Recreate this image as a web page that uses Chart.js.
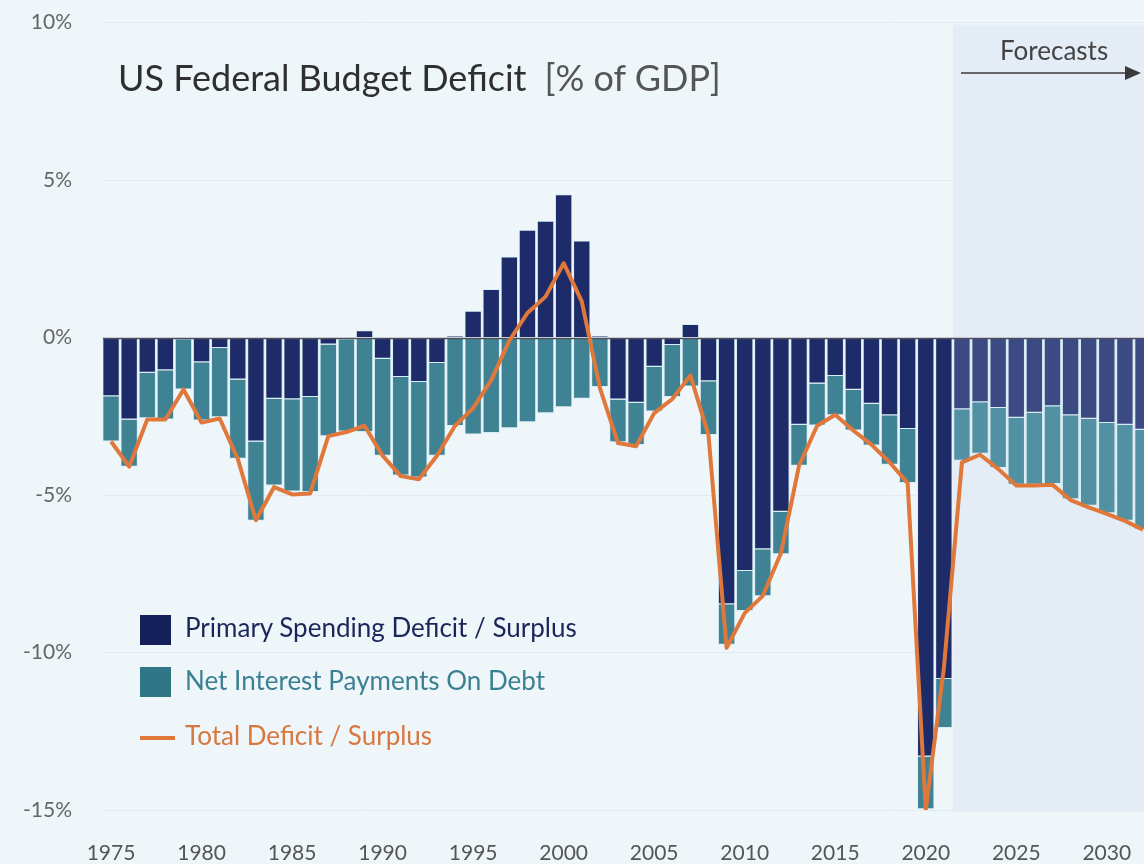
<!DOCTYPE html>
<html>
<head>
<meta charset="utf-8">
<title>US Federal Budget Deficit</title>
<script src="https://cdn.jsdelivr.net/npm/chart.js@4.4.0/dist/chart.umd.min.js"></script>
<style>
    html, body { margin: 0; padding: 0; background: #eef6fa; overflow: hidden; }
    body { width: 1144px; height: 864px; position: relative; font-family: Lato, "Open Sans", sans-serif; }
    #deficitChart { position: absolute; left: 0; top: -20px; }
    .title { position: absolute; left: 118px; top: 55px; font-size: 36px; color: #2f2f2f; white-space: nowrap; }
    .title span { color: #555; margin-left: 18px; }
    .forecast { position: absolute; left: 1000px; top: 34px; font-size: 26px; color: #444; }
    .arrow { position: absolute; left: 960px; top: 64px; }
    .legend { position: absolute; left: 140px; font-size: 26px; white-space: nowrap; }
    .legend i { position: absolute; left: 0; width: 31px; height: 30px; }
    .legend b { position: absolute; left: 0; width: 35px; height: 4px; }
    .legend span { position: absolute; left: 45px; }
</style>
</head>
<body>
<canvas id="deficitChart" width="1166" height="884"></canvas>

<div class="title">US Federal Budget Deficit<span>[% of GDP]</span></div>
<div class="forecast">Forecasts</div>
<svg class="arrow" width="184" height="18">
    <line x1="1" y1="9" x2="168" y2="9" stroke="#3a3a3a" stroke-width="1.6"/>
    <polygon points="165,2 181,9 165,16" fill="#3a3a3a"/>
</svg>

<div class="legend" style="top:615px">
    <i style="background:#14205a"></i><span style="top:-4px;color:#1a2658">Primary Spending Deficit / Surplus</span>
</div>
<div class="legend" style="top:667px">
    <i style="background:#2f7687"></i><span style="top:-3px;color:#3b8092">Net Interest Payments On Debt</span>
</div>
<div class="legend" style="top:736px">
    <b style="background:#e0783b"></b><span style="top:-17px;color:#d8773f">Total Deficit / Surplus</span>
</div>

<script>
// 📅 years on the x axis (last visible one is cut at the right edge)
const years = [
    '1975', '1976', '1977', '1978', '1979', '1980', '1981', '1982', '1983', '1984',
    '1985', '1986', '1987', '1988', '1989', '1990', '1991', '1992', '1993', '1994',
    '1995', '1996', '1997', '1998', '1999', '2000', '2001', '2002', '2003', '2004',
    '2005', '2006', '2007', '2008', '2009', '2010', '2011', '2012', '2013', '2014',
    '2015', '2016', '2017', '2018', '2019', '2020', '2021', '2022', '2023', '2024',
    '2025', '2026', '2027', '2028', '2029', '2030', '2031', '2032'
];
const tickYears = ['1975', '1980', '1985', '1990', '1995', '2000', '2005', '2010', '2015', '2020', '2025', '2030'];
const firstForecastYear = '2022';

// 📊 primary spending deficit / surplus (% of GDP)
const primary = [
    -1.86, -2.60, -1.12, -1.04, -0.05, -0.78, -0.33, -1.33, -3.30, -1.94,
    -1.96, -1.89, -0.22, -0.05, 0.23, -0.67, -1.25, -1.41, -0.81, 0.05,
    0.85, 1.54, 2.57, 3.42, 3.71, 4.55, 3.08, 0.05, -1.97, -2.07,
    -0.93, -0.24, 0.43, -1.39, -8.47, -7.41, -6.72, -5.53, -2.77, -1.46,
    -1.22, -1.66, -2.10, -2.47, -2.90, -13.30, -10.84, -2.28, -2.05, -2.24,
    -2.55, -2.39, -2.18, -2.47, -2.58, -2.71, -2.77, -2.93
];

// 💵 net interest payments on debt (% of GDP)
const interest = [
    -1.44, -1.50, -1.44, -1.56, -1.60, -1.85, -2.20, -2.52, -2.52, -2.76,
    -2.93, -3.01, -2.91, -2.93, -3.00, -3.08, -3.13, -3.03, -2.94, -2.81,
    -3.08, -3.03, -2.88, -2.69, -2.40, -2.21, -1.94, -1.57, -1.35, -1.34,
    -1.42, -1.65, -1.55, -1.70, -1.28, -1.27, -1.49, -1.35, -1.30, -1.33,
    -1.25, -1.29, -1.33, -1.57, -1.72, -1.68, -1.56, -1.63, -1.64, -1.90,
    -2.12, -2.28, -2.47, -2.66, -2.76, -2.87, -3.05, -3.17
];

// 📉 total deficit / surplus line (% of GDP)
const total = [
    -3.30, -4.10, -2.60, -2.60, -1.65, -2.70, -2.57, -3.85, -5.80, -4.75,
    -4.98, -4.95, -3.13, -3.00, -2.80, -3.75, -4.40, -4.50, -3.75, -2.80,
    -2.24, -1.35, -0.10, 0.78, 1.30, 2.36, 1.15, -1.60, -3.35, -3.45,
    -2.40, -1.95, -1.20, -3.10, -9.85, -8.75, -8.20, -6.85, -4.07, -2.80,
    -2.45, -2.95, -3.40, -3.96, -4.62, -15.00, -10.50, -3.96, -3.72, -4.17,
    -4.70, -4.70, -4.67, -5.16, -5.39, -5.60, -5.82, -6.10
];

const forecastIndex = years.indexOf(firstForecastYear);

// 🎨 bars in the forecast zone are a bit faded
function barColor(dark, light) {
    return (ctx) => ctx.dataIndex >= forecastIndex ? light : dark;
}

// 🟦 forecast shading + zero line
const forecastPlugin = {
    id: 'forecastZone',
    beforeDraw(chart) {
        const { ctx, chartArea, scales: { x } } = chart;
        const step = x.getPixelForValue(1) - x.getPixelForValue(0);
        const left = x.getPixelForValue(forecastIndex) - step / 2;
        ctx.save();
        ctx.fillStyle = '#e4ecf5';
        ctx.fillRect(left, chartArea.top + 2, chart.width - left, chartArea.bottom - chartArea.top);
        ctx.restore();
    },
    beforeDatasetDraw(chart, args) {
        if (args.index !== 2) return;
        const { ctx, chartArea, scales: { y } } = chart;
        const y0 = Math.round(y.getPixelForValue(0)) + 0.5;
        ctx.save();
        ctx.strokeStyle = '#4b505c';
        ctx.lineWidth = 1.5;
        ctx.beginPath();
        ctx.moveTo(chartArea.left + 1, y0);
        ctx.lineTo(chart.width, y0);
        ctx.stroke();
        ctx.restore();
    }
};

const ctx = document.getElementById('deficitChart').getContext('2d');
window.chartInstance = new Chart(ctx, {
    type: 'bar',
    data: {
        labels: years,
        datasets: [
            {
                label: 'Primary Spending Deficit / Surplus',
                data: primary,
                backgroundColor: barColor('#1d2c69', '#3b4a82'),
                borderColor: '#d8eef5',
                borderWidth: 1,
                barPercentage: 0.96,
                categoryPercentage: 1.0,
                stack: 'deficit',
                order: 1
            },
            {
                label: 'Net Interest Payments On Debt',
                data: interest,
                backgroundColor: barColor('#3e8294', '#5191a3'),
                borderColor: '#d8eef5',
                borderWidth: 1,
                barPercentage: 0.96,
                categoryPercentage: 1.0,
                stack: 'deficit',
                order: 2
            },
            {
                type: 'line',
                label: 'Total Deficit / Surplus',
                data: total,
                borderColor: '#e0783b',
                borderWidth: 4,
                borderJoinStyle: 'round',
                pointRadius: 0,
                tension: 0,
                fill: false,
                order: 0
            }
        ]
    },
    options: {
        responsive: false,
        animation: false,
        layout: { padding: { top: 2, right: 0, bottom: 0, left: 0 } },
        plugins: {
            legend: { display: false },
            title: { display: false },
            tooltip: { enabled: false }
        },
        scales: {
            x: {
                stacked: true,
                grid: { display: false },
                border: { display: false },
                ticks: {
                    autoSkip: false,
                    maxRotation: 0,
                    padding: 23,
                    color: '#555',
                    font: { family: 'Lato', size: 21 },
                    callback: function (value) {
                        const label = this.getLabelForValue(value);
                        return tickYears.includes(label) ? label : '';
                    }
                },
                afterFit: (scale) => { scale.height = 54; }
            },
            y: {
                stacked: true,
                min: -15,
                max: 10,
                grid: {
                    drawTicks: false,
                    color: (c) => c.tick.value === 0 ? 'rgba(0,0,0,0)' : '#e1eaf0',
                    lineWidth: 1
                },
                border: { display: false },
                ticks: {
                    stepSize: 5,
                    padding: 30,
                    color: '#666',
                    font: { family: 'Lato', size: 21 },
                    callback: (v) => v + '%'
                },
                afterFit: (scale) => { scale.width = 102; }
            }
        }
    },
    plugins: [forecastPlugin]
});
</script>
</body>
</html>
